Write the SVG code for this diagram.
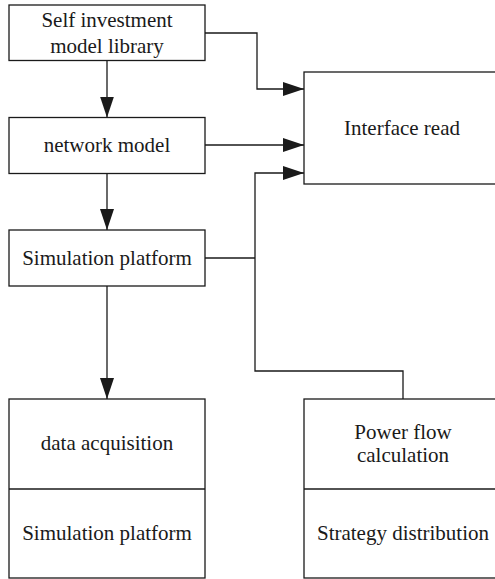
<svg xmlns="http://www.w3.org/2000/svg" width="495" height="579" viewBox="0 0 495 579">
<style>
.box{fill:#fff;stroke:#1a1a1a;stroke-width:1.3}
.ln{fill:none;stroke:#1a1a1a;stroke-width:1.3}
text{font-family:"Liberation Serif","Times New Roman",serif;font-size:21px;fill:#1a1a1a;text-anchor:middle}
</style>
<defs>
<marker id="ah" markerUnits="userSpaceOnUse" markerWidth="21" markerHeight="14" refX="21" refY="7" orient="auto">
<path d="M0,0 L21,7 L0,14 Z" fill="#1a1a1a"/>
</marker>
</defs>
<g id="connectors">
<path class="ln" d="M107,60.5 V117.5" marker-end="url(#ah)"/>
<path class="ln" d="M107,173.5 V230" marker-end="url(#ah)"/>
<path class="ln" d="M107,286 V399" marker-end="url(#ah)"/>
<path class="ln" d="M205,33 H257 V89 H304" marker-end="url(#ah)"/>
<path class="ln" d="M205,145 H304" marker-end="url(#ah)"/>
<path class="ln" d="M403,399 V371 H255 V173 H304" marker-end="url(#ah)"/>
<path class="ln" d="M205,258 H255"/>
</g>
<g id="self-investment">
<rect class="box" x="9" y="5" width="196" height="55.5"/>
<text x="107" y="27">Self investment</text>
<text x="107" y="53">model library</text>
</g>
<g id="network-model">
<rect class="box" x="9" y="117.5" width="196" height="56"/>
<text x="107" y="152">network model</text>
</g>
<g id="simulation-platform">
<rect class="box" x="9" y="230" width="196" height="56"/>
<text x="107" y="265">Simulation platform</text>
</g>
<g id="interface-read">
<rect class="box" x="304" y="72" width="200" height="112"/>
<text x="402" y="135">Interface read</text>
</g>
<g id="data-acquisition">
<rect class="box" x="9" y="399" width="196" height="179"/>
<line class="ln" x1="9" y1="489" x2="205" y2="489"/>
<text x="107" y="450">data acquisition</text>
<text x="107" y="540">Simulation platform</text>
</g>
<g id="power-flow">
<rect class="box" x="304" y="399" width="200" height="179"/>
<line class="ln" x1="304" y1="489" x2="504" y2="489"/>
<text x="403" y="439">Power flow</text>
<text x="403" y="462">calculation</text>
<text x="403" y="540">Strategy distribution</text>
</g>
</svg>
